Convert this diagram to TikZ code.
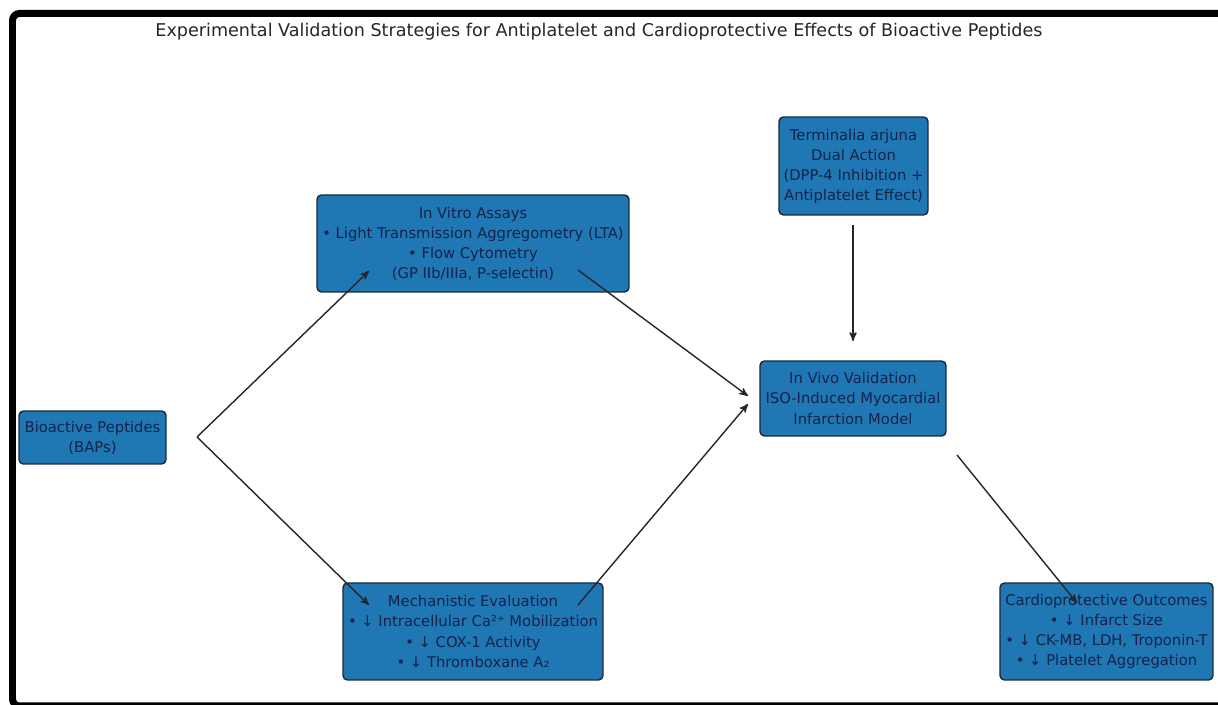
\documentclass[tikz,border=0pt]{standalone}
\usepackage{fontspec}
\setmainfont{DejaVu Sans}
\usetikzlibrary{arrows,calc}

\definecolor{boxblue}{RGB}{31,119,180}
\definecolor{boxedge}{RGB}{25,40,60}
\definecolor{boxtext}{RGB}{20,35,75}

\begin{document}
\begin{tikzpicture}[
        x=0.02cm, y=-0.02cm,
        frame/.style={line width=0.14cm, rounded corners=4pt},
        title/.style={font=\fontsize{10}{12}\selectfont, text=black!85},
        box/.style={draw=boxedge, fill=boxblue, line width=0.8pt,
            rounded corners=2.5pt, text=boxtext, align=center, inner sep=1pt,
            font=\fontsize{8.4}{11.4}\selectfont},
        conn/.style={->, >=stealth', line width=0.8pt, color=black!85},
    ]

    \useasboundingbox (0,0) rectangle (1218,705);

    \draw[frame] (1230,13.5) -- (12.5,13.5) -- (12.5,706) -- (1230,706);

    \node[title] (title) at (599,32)
        {Experimental Validation Strategies for Antiplatelet and Cardioprotective Effects of Bioactive Peptides};

    \node[box, minimum width=2.94cm, minimum height=1.06cm] (baps) at (92.5,437.5)
        {Bioactive Peptides\\(BAPs)};
    \node[box, minimum width=6.24cm, minimum height=1.94cm] (vitro) at (473,243.5)
        {In Vitro Assays\\• Light Transmission Aggregometry (LTA)\\• Flow Cytometry\\(GP IIb/IIIa, P-selectin)};
    \node[box, minimum width=5.2cm, minimum height=1.94cm] (mech) at (473,631.5)
        {Mechanistic Evaluation\\• ↓ Intracellular Ca²⁺ Mobilization\\• ↓ COX-1 Activity\\• ↓ Thromboxane A₂};
    \node[box, minimum width=2.98cm, minimum height=1.96cm] (arjuna) at (853.5,166)
        {Terminalia arjuna\\Dual Action\\(DPP-4 Inhibition +\\Antiplatelet Effect)};
    \node[box, minimum width=3.72cm, minimum height=1.5cm] (vivo) at (853,398.5)
        {In Vivo Validation\\ISO-Induced Myocardial\\Infarction Model};
    \node[box, minimum width=4.26cm, minimum height=1.94cm] (outcome) at (1106.5,631.5)
        {Cardioprotective Outcomes\\• ↓ Infarct Size\\• ↓ CK-MB, LDH, Troponin-T\\• ↓ Platelet Aggregation};

    \coordinate (baps_out) at (197,437);
    \coordinate (vitro_in) at (369,271);
    \coordinate (mech_in) at (369,605);
    \coordinate (vitro_out) at (578,270);
    \coordinate (mech_out) at (578,605);
    \coordinate (vivo_in1) at (748,396);
    \coordinate (vivo_in2) at (748,404);
    \coordinate (arjuna_out) at (853,225);
    \coordinate (vivo_top) at (853,341);
    \coordinate (vivo_out) at (957,455);
    \coordinate (outcome_in) at (1077,603);

    \draw[conn] (baps_out) -- (vitro_in);
    \draw[conn] (baps_out) -- (mech_in);
    \draw[conn] (vitro_out) -- (vivo_in1);
    \draw[conn] (mech_out) -- (vivo_in2);
    \draw[conn] (arjuna_out) -- (vivo_top);
    \draw[conn] (vivo_out) -- (outcome_in);

\end{tikzpicture}
\end{document}
